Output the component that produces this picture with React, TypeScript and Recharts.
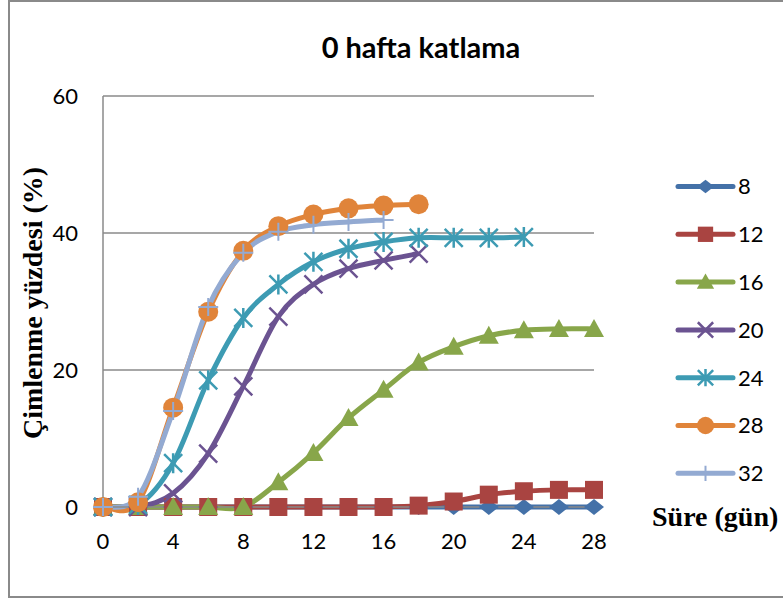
import React from "react";
import { LineChart, Line, XAxis, YAxis, CartesianGrid } from "recharts";

// days (x axis)
const DAYS = [0, 2, 4, 6, 8, 10, 12, 14, 16, 18, 20, 22, 24, 26, 28];

const S8 = [0, 0, 0, 0, 0, 0, 0, 0, 0, 0, 0, 0, 0, 0, 0];
const S12 = [0, 0, 0, 0, 0, 0, 0, 0, 0, 0.2, 0.8, 1.8, 2.3, 2.5, 2.5];
const S16 = [0, 0, 0, 0, 0, 3.6, 7.9, 13.0, 17.1, 21.1, 23.4, 25.0, 25.8, 26.0, 26.0];
const S20 = [0, 0, 2.0, 7.8, 17.6, 27.8, 32.5, 34.8, 36.0, 37.0, null, null, null, null, null];
const S24 = [0, 0.3, 6.4, 18.5, 27.6, 32.5, 35.8, 37.7, 38.7, 39.3, 39.3, 39.3, 39.4, null, null];
const S28 = [0, 0.7, 14.5, 28.5, 37.4, 41.0, 42.7, 43.6, 44.0, 44.2, null, null, null, null, null];
const S32 = [0, 1.5, 14.0, 29.2, 37.1, 40.2, 41.2, 41.6, 41.9, null, null, null, null, null, null];

const X_TICKS = [0, 4, 8, 12, 16, 20, 24, 28];
const Y_TICKS = [0, 20, 40, 60];

type Shape = "diamond" | "square" | "triangle" | "x" | "star" | "circle" | "plus";

const SERIES: { key: string; name: string; values: (number | null)[]; color: string; shape: Shape }[] = [
  { key: "s8", name: "8", values: S8, color: "#4471A8", shape: "diamond" },
  { key: "s12", name: "12", values: S12, color: "#A94441", shape: "square" },
  { key: "s16", name: "16", values: S16, color: "#88A64A", shape: "triangle" },
  { key: "s20", name: "20", values: S20, color: "#6B5391", shape: "x" },
  { key: "s24", name: "24", values: S24, color: "#3D9BB3", shape: "star" },
  { key: "s28", name: "28", values: S28, color: "#E0843A", shape: "circle" },
  { key: "s32", name: "32", values: S32, color: "#93AAD2", shape: "plus" },
];

const data = DAYS.map((day, i) => {
  const row: Record<string, number | null> = { day };
  SERIES.forEach((s) => {
    row[s.key] = s.values[i];
  });
  return row;
});

const GRAY = "#8a8a8a";
const SANS = "Lato, 'Open Sans', sans-serif";
const SERIF = "'Liberation Serif', 'DejaVu Serif', serif";

// Excel-like smoothed line (cardinal spline through the points)
function excelCurve(context: any) {
  let pts: [number, number][] = [];
  return {
    areaStart() {},
    areaEnd() {},
    lineStart() {
      pts = [];
    },
    lineEnd() {
      const n = pts.length;
      if (!n) return;
      context.moveTo(pts[0][0], pts[0][1]);
      for (let i = 0; i < n - 1; i++) {
        const p0 = pts[Math.max(0, i - 1)];
        const p1 = pts[i];
        const p2 = pts[i + 1];
        const p3 = pts[Math.min(n - 1, i + 2)];
        context.bezierCurveTo(
          p1[0] + (p2[0] - p0[0]) / 6,
          p1[1] + (p2[1] - p0[1]) / 6,
          p2[0] - (p3[0] - p1[0]) / 6,
          p2[1] - (p3[1] - p1[1]) / 6,
          p2[0],
          p2[1]
        );
      }
    },
    point(x: number, y: number) {
      pts.push([+x, +y]);
    },
  };
}

function Marker({ shape, cx, cy, color, k = 1 }: { shape: Shape; cx: number; cy: number; color: string; k?: number }) {
  const s = 9 * k;
  switch (shape) {
    case "diamond":
      return <polygon points={`${cx - s - 1},${cy} ${cx},${cy - s + 1} ${cx + s + 1},${cy} ${cx},${cy + s - 1}`} fill={color} />;
    case "square":
      return <rect x={cx - s} y={cy - s} width={2 * s} height={2 * s} fill={color} />;
    case "triangle":
      return <polygon points={`${cx},${cy - s - 1} ${cx + s + 1},${cy + s - 1} ${cx - s - 1},${cy + s - 1}`} fill={color} />;
    case "x":
      return (
        <path d={`M${cx - s},${cy - s}L${cx + s},${cy + s}M${cx - s},${cy + s}L${cx + s},${cy - s}`} stroke={color} strokeWidth={2.5} />
      );
    case "star":
      return (
        <path
          d={`M${cx - s},${cy - s}L${cx + s},${cy + s}M${cx - s},${cy + s}L${cx + s},${cy - s}M${cx},${cy - s - 1}L${cx},${cy + s + 1}`}
          stroke={color}
          strokeWidth={2.5}
        />
      );
    case "circle":
      return <circle cx={cx} cy={cy} r={s + 1} fill={color} />;
    case "plus":
      return <path d={`M${cx - s - 1},${cy}L${cx + s + 1},${cy}M${cx},${cy - s}L${cx},${cy + s}`} stroke={color} strokeWidth={2} />;
  }
  return null;
}

function LegendBox() {
  return (
    <svg width={123} height={340} style={{ display: "block" }}>
      {SERIES.map((s, i) => {
        const y = 21.5 + i * 47.8;
        return (
          <g key={s.key}>
            <line x1={18} x2={73} y1={y} y2={y} stroke={s.color} strokeWidth={5} strokeLinecap="round" />
            <Marker shape={s.shape} cx={45.5} cy={y} color={s.color} k={0.85} />
            <text x={78} y={y} dy="0.36em" fontSize={22} fontFamily={SANS} fill="#000">
              {s.name}
            </text>
          </g>
        );
      })}
    </svg>
  );
}

export default function App() {
  return (
    <div style={{ position: "absolute", left: 0, top: 0, width: 783, height: 599, overflow: "hidden", background: "#fff" }}>
      <div
        style={{
          position: "absolute",
          left: 8,
          top: 0,
          width: 800,
          height: 594,
          border: `2px solid ${GRAY}`,
        }}
      />
      <div style={{ position: "absolute", left: 0, top: 0 }}>
        <LineChart width={783} height={599} data={data} margin={{ top: 96, right: 189, bottom: 62, left: 63 }}>
          <CartesianGrid vertical={false} stroke={GRAY} strokeWidth={1.5} />
          <XAxis
            dataKey="day"
            type="number"
            domain={[0, 28]}
            ticks={X_TICKS}
            interval={0}
            height={30}
            axisLine={{ stroke: GRAY, strokeWidth: 1.5 }}
            tickLine={false}
            tickSize={0}
            tickMargin={26}
            tick={{ fontSize: 22, fontFamily: SANS, fill: "#000" }}
          />
          <YAxis
            type="number"
            domain={[0, 60]}
            ticks={Y_TICKS}
            interval={0}
            width={40}
            axisLine={{ stroke: GRAY, strokeWidth: 1.5 }}
            tickLine={false}
            tickSize={0}
            tickMargin={25}
            tick={{ fontSize: 22, fontFamily: SANS, fill: "#000" }}
          />
          {SERIES.map((s) => (
            <Line
              key={s.key}
              dataKey={s.key}
              name={s.name}
              type={excelCurve as any}
              stroke={s.color}
              strokeWidth={5}
              isAnimationActive={false}
              connectNulls={false}
              activeDot={false}
              dot={(p: any) => {
                if (p.cx == null || p.cy == null || p.value == null) return <g key={`${s.key}-${p.index}`} />;
                return (
                  <g key={`${s.key}-${p.index}`}>
                    <Marker shape={s.shape} cx={p.cx} cy={p.cy} color={s.color} />
                  </g>
                );
              }}
            />
          ))}
        </LineChart>
      </div>
      <div style={{ position: "absolute", left: 660, top: 165 }}>
        <LegendBox />
      </div>
      <svg width={783} height={599} style={{ position: "absolute", left: 0, top: 0, pointerEvents: "none" }}>
        <text x={421} y={58} textAnchor="middle" fontSize={29} fontWeight={700} fontFamily={SANS} fill="#000">
          0 hafta katlama
        </text>
        <text
          x={42}
          y={303}
          transform="rotate(-90, 42, 303)"
          textAnchor="middle"
          fontSize={28}
          fontWeight={700}
          fontFamily={SERIF}
          fill="#000"
        >
          Çimlenme yüzdesi (%)
        </text>
        <text x={652} y={526} fontSize={28} fontWeight={700} fontFamily={SERIF} fill="#000">
          Süre (gün)
        </text>
      </svg>
    </div>
  );
}
